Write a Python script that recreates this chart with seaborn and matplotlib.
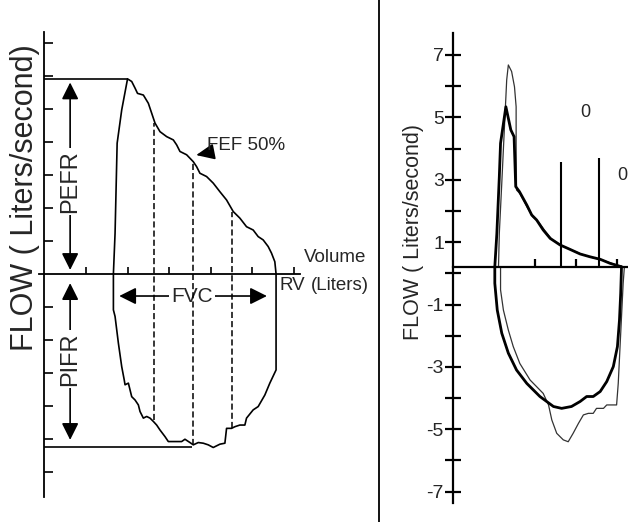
import numpy as np
import pandas as pd
import seaborn as sns
import matplotlib
matplotlib.use("Agg")
import matplotlib.pyplot as plt
from matplotlib.lines import Line2D

# ---- left panel: schematic flow-volume loop (x = volume units, y = flow units)
exp_vol = [1.66, 1.70, 1.75, 1.86, 2.00, 2.10, 2.18, 2.24, 2.38, 2.50, 2.58, 2.66,
           2.78, 2.94, 3.10, 3.18, 3.26, 3.42, 3.58, 3.66, 3.74, 3.90, 4.06, 4.22,
           4.38, 4.54, 4.70, 4.86, 5.02, 5.14, 5.26, 5.38, 5.46, 5.54, 5.57]
exp_flow = [0, 1.23, 3.96, 4.97, 5.91, 5.83, 5.63, 5.47, 5.42, 5.17, 4.87, 4.57,
            4.31, 4.16, 4.06, 3.91, 3.71, 3.61, 3.40, 3.25, 3.05, 2.95, 2.75, 2.49,
            2.24, 1.89, 1.69, 1.43, 1.33, 1.13, 1.03, 0.83, 0.63, 0.37, 0]
insp_vol = [5.57, 5.57, 5.57, 5.42, 5.30, 5.14, 5.02, 4.86, 4.82, 4.70, 4.58, 4.50,
            4.38, 4.34, 4.22, 4.06, 3.94, 3.82, 3.70, 3.58, 3.50, 3.38, 3.30, 2.98,
            2.90, 2.78, 2.70, 2.62, 2.54, 2.46, 2.38, 2.30, 2.26, 2.18, 2.10, 2.02,
            1.94, 1.92, 1.86, 1.78, 1.70, 1.66, 1.66]
insp_flow = [0, -1.80, -2.91, -3.31, -3.67, -4.02, -4.12, -4.37, -4.58, -4.58, -4.63, -4.68,
             -4.68, -5.13, -5.16, -5.26, -5.18, -5.13, -5.11, -5.18, -5.11, -5.01, -5.08, -5.08,
             -4.93, -4.73, -4.58, -4.47, -4.37, -4.32, -4.37, -4.17, -3.97, -3.82, -3.72, -3.31,
             -3.36, -3.21, -2.81, -2.10, -1.29, -1.09, 0]
pefr = 5.91
pifr = -5.26
pefr_end = 2.00
pifr_end = 3.56
dash_x = [2.64, 3.58, 4.52]
dash_top = [4.57, 3.40, 1.89]
dash_bot = [-4.42, -5.18, -4.68]
left_xticks = [1, 2, 3, 4, 5, 6]
left_yticks = [7, 6, 5, 4, 3, 2, 1, -1, -2, -3, -4, -5, -6]

# ---- right panel: two measured loops (thick and thin trace)
thick_exp_x = [1.02, 1.07, 1.13, 1.16, 1.29, 1.41, 1.49, 1.53, 1.62, 1.80, 1.92, 2.04,
               2.20, 2.37, 2.61, 2.85, 3.10, 3.34, 3.59, 3.83, 4.11]
thick_exp_y = [0.21, 1.28, 3.10, 4.17, 5.34, 4.60, 4.38, 2.78, 2.62, 2.19, 1.87, 1.71,
               1.39, 1.12, 0.91, 0.77, 0.62, 0.53, 0.45, 0.32, 0.21]
thin_exp_x = [1.11, 1.13, 1.19, 1.24, 1.31, 1.35, 1.43, 1.50, 1.54, 1.54, 1.55, 1.63,
              1.80, 1.94, 2.08, 2.24, 2.41, 2.65, 2.89, 3.14, 3.38, 3.63, 3.87, 4.11]
thin_exp_y = [0.21, 1.28, 2.89, 4.27, 6.20, 6.68, 6.47, 5.98, 5.34, 4.06, 2.67, 2.56,
              2.14, 1.82, 1.66, 1.37, 1.09, 0.89, 0.75, 0.61, 0.51, 0.43, 0.32, 0.21]
thick_insp_x = [1.02, 1.02, 1.08, 1.19, 1.35, 1.55, 1.80, 2.12, 2.45, 2.65, 2.89, 3.10,
                3.26, 3.42, 3.59, 3.75, 3.91, 4.01, 4.06, 4.09, 4.11]
thick_insp_y = [0.21, -0.32, -1.18, -1.92, -2.56, -3.10, -3.53, -3.95, -4.27, -4.33, -4.27, -4.11,
                -3.95, -3.95, -3.79, -3.47, -2.99, -2.35, -1.50, -0.64, 0.21]
thin_insp_x = [1.16, 1.16, 1.23, 1.35, 1.47, 1.63, 1.88, 2.20, 2.33, 2.41, 2.53, 2.69,
               2.81, 2.93, 3.06, 3.18, 3.30, 3.42, 3.50, 3.67, 3.75, 3.99, 4.03, 4.07,
               4.11, 4.15, 4.18]
thin_insp_y = [0.21, -0.53, -1.18, -1.82, -2.35, -2.89, -3.42, -3.85, -4.22, -4.70, -5.13, -5.34,
               -5.40, -5.13, -4.81, -4.54, -4.49, -4.49, -4.33, -4.33, -4.22, -4.22, -3.53, -2.46,
               -1.39, -0.32, 0.21]
baseline = 0.21
mark_x = [2.63, 3.55]
mark_top = [3.58, 3.69]
right_xticks = [2, 3, 4]
right_major = [7, 5, 3, 1, -1, -3, -5, -7]
right_minor = [6, 4, 2, 0, -2, -4, -6]

sns.set_theme(style="white")
plt.rcParams["font.family"] = ["Liberation Sans", "DejaVu Sans"]

fig = plt.figure(figsize=(6.28, 5.22), dpi=100)
ax1 = fig.add_axes([0.0706, 0.0479, 0.5313, 0.8908])
ax2 = fig.add_axes([0.7213, 0.0364, 0.2787, 0.9004])

# ---------- left panel
sns.lineplot(x=exp_vol, y=exp_flow, sort=False, estimator=None, color="black", lw=1.2, ax=ax1)
sns.lineplot(x=insp_vol, y=insp_flow, sort=False, estimator=None, color="black", lw=1.2, ax=ax1)
ax1.hlines([pefr, pifr], 0, [pefr_end, pifr_end], color="black", lw=1.2)
ax1.vlines(dash_x, dash_bot, dash_top, color="black", lw=1.1, linestyles=(0, (4, 2)), zorder=5)

ax1.set_xlim(0, 8.02)
ax1.set_ylim(-6.76, 7.33)
ax1.spines[["top", "right"]].set_visible(False)
ax1.spines["bottom"].set_position(("data", 0))
ax1.spines["bottom"].set_bounds(-0.12, 6.15)
for s in ["left", "bottom"]:
    ax1.spines[s].set_color("black")
    ax1.spines[s].set_linewidth(1.3)
ax1.set_xticks(left_xticks)
ax1.set_yticks(left_yticks)
ax1.set_xticklabels([])
ax1.set_yticklabels([])
ax1.tick_params(axis="x", direction="in", length=5, width=1.2, color="black", bottom=True)
ax1.tick_params(axis="y", direction="in", length=6.5, width=1.2, color="black", left=True)

arrow = dict(arrowstyle="<|-|>,head_length=0.6,head_width=0.3", color="black", lw=1.2,
             shrinkA=0, shrinkB=0, mutation_scale=17)
ax1.annotate("", xy=(0.62, 5.8), xytext=(0.62, 0.12), arrowprops=arrow)
ax1.annotate("", xy=(0.62, -0.28), xytext=(0.62, -5.03), arrowprops=arrow)
ax1.annotate("", xy=(1.80, -0.67), xytext=(5.35, -0.67), arrowprops=arrow)
white = dict(facecolor="white", edgecolor="none", pad=1.5)
ax1.text(0.62, 2.8, "PEFR", rotation=90, ha="center", va="center", fontsize=17, bbox=white, zorder=4)
ax1.text(0.62, -2.58, "PIFR", rotation=90, ha="center", va="center", fontsize=17, bbox=white, zorder=4)
ax1.text(3.55, -0.67, "FVC", ha="center", va="center", fontsize=15, bbox=white, zorder=4)
ax1.annotate("FEF 50%", xy=(3.65, 3.6), xytext=(3.92, 3.9), ha="left", va="center",
             fontsize=13.5,
             arrowprops=dict(arrowstyle="-|>,head_length=0.8,head_width=0.35", color="black",
                             lw=1.2, shrinkA=0, shrinkB=0, mutation_scale=14))
ax1.text(6.24, 0.5, "Volume", ha="left", va="center", fontsize=13.5)
ax1.text(6.40, -0.35, "(Liters)", ha="left", va="center", fontsize=13.5)
ax1.text(5.65, -0.35, "RV", ha="left", va="center", fontsize=13.5)
fig.text(24.7 / 628, 1 - 197.5 / 522, "FLOW ( Liters/second)", rotation=90,
         ha="center", va="center", fontsize=22)

# ---------- right panel
sns.lineplot(x=thin_exp_x, y=thin_exp_y, sort=False, estimator=None, color="#333333", lw=0.9, ax=ax2)
sns.lineplot(x=thin_insp_x, y=thin_insp_y, sort=False, estimator=None, color="#333333", lw=0.9, ax=ax2)
sns.lineplot(x=thick_exp_x, y=thick_exp_y, sort=False, estimator=None, color="black", lw=2.0, ax=ax2)
sns.lineplot(x=thick_insp_x, y=thick_insp_y, sort=False, estimator=None, color="black", lw=2.0, ax=ax2)
ax2.vlines(mark_x, baseline, mark_top, color="black", lw=1.5)

ax2.set_xlim(0, 4.268)
ax2.set_ylim(-7.364, 7.705)
ax2.spines[["top", "right"]].set_visible(False)
ax2.spines["bottom"].set_position(("data", baseline))
for s in ["left", "bottom"]:
    ax2.spines[s].set_color("black")
    ax2.spines[s].set_linewidth(1.6)
ax2.set_xticks(right_xticks)
ax2.set_xticklabels([])
ax2.set_yticks(right_major)
ax2.set_yticklabels([str(v) for v in right_major])
ax2.set_yticks(right_minor, minor=True)
ax2.tick_params(axis="x", direction="in", length=6, width=1.6, color="black", bottom=True)
ax2.tick_params(axis="y", which="both", direction="inout", length=11, width=1.6,
                color="black", left=True, labelsize=14, pad=1)
ax2.text(3.22, 5.14, "0", ha="center", va="center", fontsize=13)
ax2.text(4.26, 3.15, "0", ha="right", va="center", fontsize=13)
fig.text(413.3 / 628, 1 - 231.7 / 522, "FLOW ( Liters/second)", rotation=90,
         ha="center", va="center", fontsize=15.5)

# divider between the two panels
fig.add_artist(Line2D([379 / 628, 379 / 628], [0, 1], transform=fig.transFigure,
                      color="black", lw=1.3))

fig.savefig("out.png", dpi=100)
